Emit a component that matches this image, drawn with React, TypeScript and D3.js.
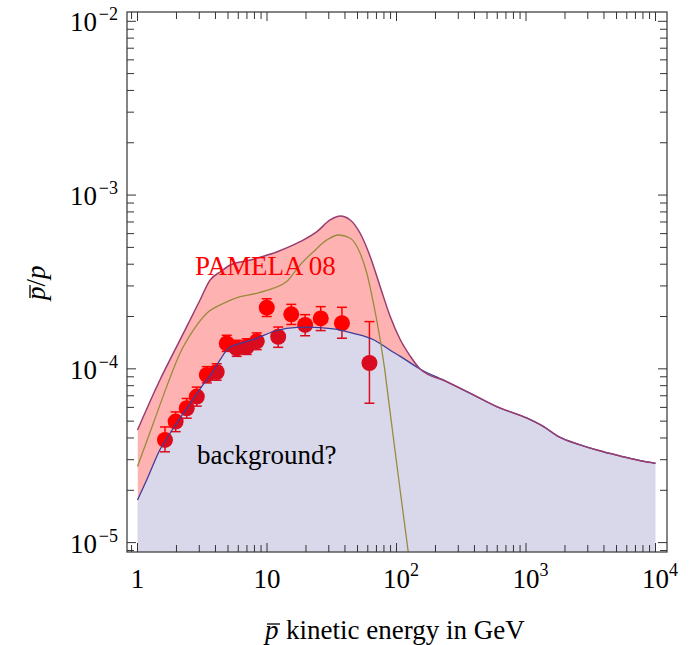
import React from 'react';
import * as d3 from 'd3';

// ---------- data ----------
// background (blue) curve
const bgE = [1, 1.18, 1.49, 1.89, 2.4, 3.13, 3.74, 4.34, 5.03, 6.2, 8.34, 11.2, 14.2, 20.3, 32.6, 46.5, 66.4, 89.4, 107, 152, 245, 394, 597, 1019, 1368, 1786, 2628, 3540, 5354, 7644, 10000];
const bgV = [1.76e-5, 2.3e-5, 3.42e-5, 4.55e-5, 5.93e-5, 7.9e-5, 9.44e-5, 1.125e-4, 1.315e-4, 1.4e-4, 1.5e-4, 1.64e-4, 1.71e-4, 1.74e-4, 1.7e-4, 1.6e-4, 1.47e-4, 1.28e-4, 1.18e-4, 9.98e-5, 8.43e-5, 7.07e-5, 6.05e-5, 5.2e-5, 4.65e-5, 4.07e-5, 3.65e-5, 3.41e-5, 3.15e-5, 2.96e-5, 2.86e-5];
// total (purple) curve, up to where it merges with background
const topE = [1, 1.49, 1.89, 2.4, 3.04, 3.63, 4.37, 5.21, 7.45, 12.0, 18.0, 24.3, 30.7, 36.8, 43.9, 52.4, 62.7, 74.8, 89.4, 107, 128];
const topV = [4.45e-5, 8.63e-5, 1.23e-4, 1.75e-4, 2.49e-4, 3.24e-4, 3.62e-4, 3.96e-4, 4.23e-4, 4.72e-4, 5.39e-4, 6.16e-4, 7.19e-4, 7.58e-4, 7.19e-4, 6.03e-4, 4.42e-4, 2.97e-4, 2.0e-4, 1.47e-4, 1.18e-4];
// olive curve
const sigE = [1, 1.325, 1.68, 2.13, 2.7, 3.43, 4.61, 6.2, 8.34, 11.2, 14.2, 18.0, 22.8, 29.0, 35.6, 43.9, 52.4, 59.0, 66.4, 74.8, 81.8, 86.8, 103, 128];
const sigV = [2.74e-5, 4.86e-5, 7.9e-5, 1.23e-4, 1.67e-4, 2.09e-4, 2.38e-4, 2.6e-4, 2.72e-4, 2.91e-4, 3.18e-4, 3.96e-4, 4.72e-4, 5.52e-4, 5.89e-4, 5.64e-4, 4.62e-4, 3.55e-4, 2.38e-4, 1.47e-4, 9.44e-5, 6.63e-5, 2.45e-5, 7.1e-6];
// PAMELA 08 data
const dataE = [1.63, 1.97, 2.4, 2.87, 3.43, 4.09, 4.89, 5.84, 6.98, 8.34, 9.96, 12.2, 15.4, 19.7, 26.0, 37.9, 61.8];
const dataV = [3.9e-5, 4.97e-5, 5.93e-5, 6.92e-5, 9.23e-5, 9.59e-5, 1.4e-4, 1.31e-4, 1.34e-4, 1.44e-4, 2.25e-4, 1.53e-4, 2.06e-4, 1.79e-4, 1.95e-4, 1.83e-4, 1.08e-4];
const dataHi = [4.63e-5, 5.65e-5, 6.75e-5, 7.85e-5, 1.03e-4, 1.07e-4, 1.56e-4, 1.46e-4, 1.49e-4, 1.61e-4, 2.53e-4, 1.74e-4, 2.35e-4, 2.05e-4, 2.28e-4, 2.26e-4, 1.87e-4];
const dataLo = [3.33e-5, 4.35e-5, 5.2e-5, 6.1e-5, 8.3e-5, 8.6e-5, 1.26e-4, 1.18e-4, 1.21e-4, 1.29e-4, 2.0e-4, 1.33e-4, 1.8e-4, 1.55e-4, 1.66e-4, 1.5e-4, 6.34e-5];

// ticks
const xMajor = [1, 10, 100, 1000, 10000];
const xMajorBase = ['1', '10', '10', '10', '10'];
const xMajorExp = ['', '', '2', '3', '4'];
const xMinor = [0.9, 2, 3, 4, 5, 6, 7, 8, 9, 20, 30, 40, 50, 60, 70, 80, 90, 200, 300, 400, 500, 600, 700, 800, 900, 2000, 3000, 4000, 5000, 6000, 7000, 8000, 9000];
const yMajor = [1e-5, 1e-4, 1e-3, 1e-2];
const yMajorExp = ['\u22125', '\u22124', '\u22123', '\u22122'];
const yMinor = [9e-6, 2e-5, 3e-5, 4e-5, 5e-5, 6e-5, 7e-5, 8e-5, 9e-5, 2e-4, 3e-4, 4e-4, 5e-4, 6e-4, 7e-4, 8e-4, 9e-4, 2e-3, 3e-3, 4e-3, 5e-3, 6e-3, 7e-3, 8e-3, 9e-3];

const FONT = "'Liberation Serif', 'Times New Roman', serif";
const BLUE = '#3F3D99';
const PURPLE = '#993D71';
const OLIVE = '#998B3D';

export default function App() {
  const L = 127, R = 667, T = 12, B = 552;
  const x = d3.scaleLog().domain([1, 1e4]).range([137.5, 655.5]);
  const y = d3.scaleLog().domain([1e-5, 1e-2]).range([542.6, 21.3]);

  const bgPts: [number, number][] = bgE.map((e, i) => [e, bgV[i]]);
  const lastTop = topE[topE.length - 1];
  const topPts: [number, number][] = topE.map((e, i) => [e, topV[i]] as [number, number]).concat(bgPts.filter(p => p[0] > lastTop));
  const sigPts: [number, number][] = sigE.map((e, i) => [e, sigV[i]]);

  const line = d3.line<[number, number]>().x(d => x(d[0])).y(d => y(d[1])).curve(d3.curveMonotoneX);
  const areaBelow = d3.area<[number, number]>().x(d => x(d[0])).y0(B).y1(d => y(d[1])).curve(d3.curveMonotoneX);
  const areaAbove = d3.area<[number, number]>().x(d => x(d[0])).y0(T).y1(d => y(d[1])).curve(d3.curveMonotoneX);

  const majorLen = 9, minorLen = 7;
  const tickColor = '#333';

  return (
    <svg width={692} height={645} style={{ position: 'absolute', left: 0, top: 0 }} fontFamily={FONT}>
      <defs>
        <clipPath id="frameClip"><rect x={L} y={T} width={R - L} height={B - T} /></clipPath>
        <clipPath id="aboveBg"><path d={areaAbove(bgPts) || ''} /></clipPath>
      </defs>
      <rect x={0} y={0} width={692} height={645} fill="#fff" />

      {/* data points */}
      <g>
        {dataE.map((e, i) => (
          <g key={i}>
            <line x1={x(e)} x2={x(e)} y1={y(dataLo[i])} y2={y(dataHi[i])} stroke="#FF0000" strokeWidth={1.5} />
            <line x1={x(e) - 5} x2={x(e) + 5} y1={y(dataLo[i])} y2={y(dataLo[i])} stroke="#FF0000" strokeWidth={1.5} />
            <line x1={x(e) - 5} x2={x(e) + 5} y1={y(dataHi[i])} y2={y(dataHi[i])} stroke="#FF0000" strokeWidth={1.5} />
            <circle cx={x(e)} cy={y(dataV[i])} r={8} fill="#FF0000" />
          </g>
        ))}
      </g>

      {/* fills */}
      <path d={areaBelow(bgPts) || ''} fill={BLUE} fillOpacity={0.2} />
      <path d={areaBelow(topPts) || ''} fill="#FF0000" fillOpacity={0.3} clipPath="url(#aboveBg)" />

      {/* lines */}
      <g clipPath="url(#frameClip)" fill="none">
        <path d={line(bgPts) || ''} stroke={BLUE} strokeWidth={1.3} />
        <path d={line(sigPts) || ''} stroke={OLIVE} strokeWidth={1.3} />
        <path d={line(topPts) || ''} stroke={PURPLE} strokeWidth={1.5} />
      </g>

      {/* frame */}
      <rect x={L} y={T} width={R - L} height={B - T} fill="none" stroke="#444" strokeWidth={1.3} />

      {/* x ticks */}
      {xMajor.map(v => (
        <g key={'xM' + v} stroke={tickColor} strokeWidth={1}>
          <line x1={x(v)} x2={x(v)} y1={B} y2={B - majorLen} />
          <line x1={x(v)} x2={x(v)} y1={T} y2={T + majorLen} />
        </g>
      ))}
      {xMinor.map(v => (
        <g key={'xm' + v} stroke={tickColor} strokeWidth={1}>
          <line x1={x(v)} x2={x(v)} y1={B} y2={B - minorLen} />
          <line x1={x(v)} x2={x(v)} y1={T} y2={T + minorLen} />
        </g>
      ))}
      {/* y ticks */}
      {yMajor.map(v => (
        <g key={'yM' + v} stroke={tickColor} strokeWidth={1}>
          <line x1={L} x2={L + majorLen} y1={y(v)} y2={y(v)} />
          <line x1={R} x2={R - majorLen} y1={y(v)} y2={y(v)} />
        </g>
      ))}
      {yMinor.map(v => (
        <g key={'ym' + v} stroke={tickColor} strokeWidth={1}>
          <line x1={L} x2={L + minorLen} y1={y(v)} y2={y(v)} />
          <line x1={R} x2={R - minorLen} y1={y(v)} y2={y(v)} />
        </g>
      ))}

      {/* x tick labels */}
      {xMajor.map((v, i) => (
        <g key={'xl' + v} fontSize={27} fill="#000">
          <text x={x(v)} y={588} textAnchor="middle">{xMajorBase[i]}</text>
          {xMajorExp[i] && <text x={x(v) + 13.5} y={576} fontSize={18}>{xMajorExp[i]}</text>}
        </g>
      ))}
      {/* y tick labels */}
      {yMajor.map((v, i) => (
        <g key={'yl' + v} fill="#000">
          <text x={118} y={y(v) - 1} fontSize={18} textAnchor="end">{yMajorExp[i]}</text>
          <text x={97} y={y(v) + 10} fontSize={27} textAnchor="end">10</text>
        </g>
      ))}

      {/* annotations */}
      <text x={195} y={275} fontSize={27} fill="#FF0000">PAMELA 08</text>
      <text x={197} y={464} fontSize={27} fill="#000">background?</text>

      {/* x title */}
      <g fontSize={27} fill="#000">
        <text x={265} y={639} fontStyle="italic">p</text>
        <line x1={267} x2={280} y1={624} y2={624} stroke="#000" strokeWidth={1.3} />
        <text x={286} y={639}>kinetic energy in GeV</text>
      </g>
      {/* y title */}
      <g transform="translate(45,300) rotate(-90)" fontSize={27} fill="#000">
        <text x={0} y={0}><tspan fontStyle="italic">p</tspan>/<tspan fontStyle="italic">p</tspan></text>
        <line x1={2} x2={15} y1={-15} y2={-15} stroke="#000" strokeWidth={1.3} />
      </g>
    </svg>
  );
}
